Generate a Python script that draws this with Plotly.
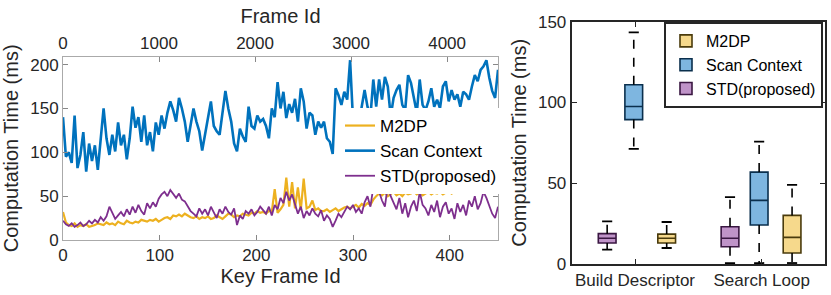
import plotly.graph_objects as go

# ---------------- data: left panel (sampled every 3 key frames) ----------------
key_frames = list(range(0, 451, 3))

scan_context = [
    140, 95, 100, 88, 142, 82, 97, 123, 78, 110,
    90, 108, 80, 120, 150, 116, 97, 120, 101, 134,
    108, 120, 92, 116, 152, 128, 140, 112, 142, 108,
    123, 101, 134, 120, 142, 127, 145, 158, 148, 135,
    162, 150, 135, 112, 130, 150, 135, 124, 102, 120,
    140, 158, 130, 124, 120, 145, 170, 150, 135, 110,
    101, 127, 118, 112, 152, 130, 127, 142, 135, 138,
    130, 116, 150, 140, 180, 150, 169, 139, 155, 145,
    161, 135, 173, 158, 127, 145, 142, 120, 135, 128,
    135, 116, 112, 98, 173, 165, 154, 169, 160, 205,
    137, 150, 129, 152, 171, 152, 140, 183, 152, 183,
    160, 186, 175, 141, 162, 171, 177, 154, 148, 188,
    179, 162, 145, 183, 154, 148, 158, 173, 152, 160,
    150, 175, 181, 158, 171, 160, 166, 152, 169, 166,
    160, 175, 188, 181, 194, 198, 205, 185, 170, 162, 194,
]

m2dp = [
    32, 20, 17, 16, 19, 15, 17, 16, 18, 15,
    16, 17, 19, 18, 17, 20, 18, 19, 17, 21,
    19, 18, 22, 20, 19, 21, 20, 23, 22, 21,
    23, 22, 24, 21, 23, 25, 26, 24, 28, 27,
    29, 27, 30, 28, 26, 25, 27, 24, 26, 25,
    27, 24, 25, 28, 26, 24, 27, 30, 29, 26,
    28, 27, 30, 29, 28, 31, 30, 33, 31, 32,
    30, 33, 32, 58, 31, 35, 40, 71, 38, 66,
    36, 60, 34, 70, 36, 38, 45, 34, 36, 33,
    33, 35, 32, 34, 36, 33, 35, 37, 38, 36,
    38, 40, 37, 41, 39, 42, 40, 46, 50, 53,
    51, 54, 50, 52, 55, 51, 53, 50, 54, 52,
    53, 55, 52, 54, 51, 53, 55, 52, 54, 53,
    55, 52, 54, 56, 53, 55, 54, 57, 55, 56,
    55, 57, 56, 58, 57, 59, 62, 60, 57, 59, 58,
]

std = [
    22, 18, 16, 19, 15, 17, 20, 16, 18, 22,
    19, 23, 20, 26, 22, 27, 38, 30, 24, 28,
    32, 27, 35, 29, 38, 31, 40, 33, 29, 42,
    36, 43, 38, 47, 52, 55, 50, 57, 52, 48,
    53, 46, 44, 38, 33, 30, 27, 36, 30, 35,
    28, 38, 32, 25, 35, 30, 38, 32, 29, 36,
    17, 28, 24, 33, 30, 35, 28, 32, 38, 34,
    30, 38, 28, 40, 35, 48, 42, 55, 45, 52,
    40, 30, 38, 25, 33, 28, 36, 30, 27, 34,
    22, 28, 24, 15, 22, 30, 26, 33, 38, 35,
    40, 32, 36, 30, 43, 50, 38, 60, 68, 55,
    45, 38, 62, 50, 42, 35, 48, 30, 42, 26,
    38, 45, 33, 55, 40, 36, 28, 40, 32, 45,
    26, 38, 43, 30, 36, 24, 42, 32, 40, 28,
    45, 38, 50, 35, 42, 55, 48, 40, 30, 25, 38,
]

key_ticks = [0, 100, 200, 300, 400]
frame_ticks = [0, 1000, 2000, 3000, 4000]
frame_range = [0, 4530]
left_y_ticks = [0, 50, 100, 150, 200]

# ---------------- data: right panel (box statistics) ----------------
methods = ["M2DP", "Scan Context", "STD(proposed)"]
groups = ["Build Descriptor", "Search Loop"]
box_lower = {"M2DP": [9.9, 0.6], "Scan Context": [71.3, 0.6], "STD(proposed)": [8.9, 0.6]}
box_q1 = {"M2DP": [13.0, 6.8], "Scan Context": [89.4, 24.1], "STD(proposed)": [13.0, 10.7]}
box_median = {"M2DP": [15.9, 16.5], "Scan Context": [97.5, 39.4], "STD(proposed)": [15.9, 15.9]}
box_q3 = {"M2DP": [18.5, 30.1], "Scan Context": [111.0, 56.9], "STD(proposed)": [18.8, 23.1]}
box_upper = {"M2DP": [26.0, 49.0], "Scan Context": [143.4, 75.8], "STD(proposed)": [26.4, 41.4]}
right_y_ticks = [0, 50, 100, 150]

# ---------------- styles ----------------
FONT = "Liberation Sans, Arial, Helvetica, sans-serif"
TXT = "#262626"
line_colors = {"M2DP": "#EDB120", "Scan Context": "#0072BD", "STD(proposed)": "#7E2F8E"}
fill_colors = {"M2DP": "#F6D98C", "Scan Context": "#7EB6E0", "STD(proposed)": "#BF93C8"}
edge_colors = {"M2DP": "#4a3b0c", "Scan Context": "#0a2f4d", "STD(proposed)": "#3a1742"}
offsets = {"STD(proposed)": [-0.22, -0.25], "Scan Context": [-0.01, -0.02], "M2DP": [0.25, 0.24]}
BOX_W = 0.14
CAP_HALF = 0.04

fig = go.Figure()

series = {"M2DP": m2dp, "Scan Context": scan_context, "STD(proposed)": std}
widths = {"M2DP": 2.2, "Scan Context": 2.6, "STD(proposed)": 1.8}
for m in methods:
    fig.add_trace(go.Scatter(
        x=key_frames, y=series[m], mode="lines", name=m,
        line=dict(color=line_colors[m], width=widths[m]),
        xaxis="x", yaxis="y", legend="legend",
    ))

# helper trace to activate the top (Frame Id) axis
fig.add_trace(go.Scatter(
    x=frame_range, y=[0, 0], mode="markers", marker=dict(opacity=0),
    hoverinfo="skip", showlegend=False, xaxis="x2", yaxis="y",
))

for m in methods:
    pos = [gi + 1 + offsets[m][gi] for gi in range(len(groups))]
    fig.add_trace(go.Box(
        x=pos, q1=box_q1[m], median=box_median[m], q3=box_q3[m],
        lowerfence=box_q1[m], upperfence=box_q3[m],
        width=BOX_W, fillcolor=fill_colors[m],
        line=dict(color=edge_colors[m], width=1.6),
        name=m, xaxis="x3", yaxis="y3", legend="legend2",
        boxpoints=False, hoverinfo="skip",
    ))
    for gi in range(len(groups)):
        p = pos[gi]
        fig.add_trace(go.Scatter(
            x=[p, p, None, p, p],
            y=[box_q3[m][gi], box_upper[m][gi], None, box_q1[m][gi], box_lower[m][gi]],
            mode="lines", line=dict(color="black", width=1.6, dash="dash"),
            showlegend=False, hoverinfo="skip", xaxis="x3", yaxis="y3",
        ))
        fig.add_trace(go.Scatter(
            x=[p - CAP_HALF, p + CAP_HALF, None, p - CAP_HALF, p + CAP_HALF],
            y=[box_upper[m][gi], box_upper[m][gi], None, box_lower[m][gi], box_lower[m][gi]],
            mode="lines", line=dict(color="black", width=1.8),
            showlegend=False, hoverinfo="skip", xaxis="x3", yaxis="y3",
        ))

W, H = 831, 295
L_X0, L_X1 = 63 / W, 498 / W
L_Y0, L_Y1 = (H - 240) / H, (H - 56.7) / H
R_X0, R_X1 = 571.7 / W, 825 / W
R_Y0, R_Y1 = (H - 264) / H, (H - 21.7) / H

tick_font = dict(family=FONT, size=17, color=TXT)
title_font = dict(family=FONT, size=20, color=TXT)

fig.update_layout(
    width=W, height=H,
    margin=dict(l=0, r=0, t=0, b=0),
    paper_bgcolor="white", plot_bgcolor="white",
    font=dict(family=FONT, color=TXT, size=17),
    showlegend=True,
    xaxis=dict(
        domain=[L_X0, L_X1], anchor="y", range=[0, 450], automargin=False,
        tickvals=key_ticks, ticks="inside", ticklen=5, tickcolor="#888",
        showline=True, linecolor="#aaa", linewidth=1, mirror=False,
        showgrid=False, zeroline=False, tickfont=tick_font,
        title=dict(text="Key Frame Id", font=title_font, standoff=4),
    ),
    xaxis2=dict(
        overlaying="x", anchor="y", side="top", range=frame_range, automargin=False,
        tickvals=frame_ticks, ticks="inside", ticklen=5, tickcolor="#888",
        showline=True, linecolor="#aaa", linewidth=1,
        showgrid=False, zeroline=False, tickfont=tick_font,
        title=dict(text="Frame Id", font=title_font, standoff=4),
    ),
    yaxis=dict(
        domain=[L_Y0, L_Y1], anchor="x", range=[0, 209], automargin=False,
        tickvals=left_y_ticks, ticks="inside", ticklen=5, tickcolor="#888",
        showline=True, linecolor="#aaa", linewidth=1, mirror="ticks",
        showgrid=False, zeroline=False, tickfont=tick_font,
        title=dict(text="Computation Time (ms)", font=title_font, standoff=6),
    ),
    xaxis3=dict(
        domain=[R_X0, R_X1], anchor="y3", range=[0.5, 2.5], automargin=False,
        tickvals=[1, 2], ticktext=groups, ticks="inside", ticklen=5,
        tickcolor="#262626", showline=True, linecolor="#262626", linewidth=2,
        mirror="ticks", showgrid=False, zeroline=False, tickfont=tick_font,
    ),
    yaxis3=dict(
        domain=[R_Y0, R_Y1], anchor="x3", range=[0, 150], automargin=False,
        tickvals=right_y_ticks, ticks="inside", ticklen=5,
        tickcolor="#262626", showline=True, linecolor="#262626", linewidth=2,
        mirror="ticks", showgrid=False, zeroline=False, tickfont=tick_font,
        title=dict(text="Computation Time (ms)", font=title_font, standoff=6),
    ),
    legend=dict(
        x=340 / W, y=(H - 108) / H, xanchor="left", yanchor="top",
        bgcolor="white", borderwidth=0, itemwidth=30,
        font=dict(family=FONT, size=17, color="black"),
        tracegroupgap=0,
    ),
    legend2=dict(
        x=823 / W, y=(H - 22) / H, xanchor="right", yanchor="top",
        bgcolor="white", bordercolor="#262626", borderwidth=2, itemwidth=30,
        font=dict(family=FONT, size=16, color="black"),
        tracegroupgap=0,
    ),
    boxmode="overlay",
)

fig.write_html(
    "out.html",
    config={"displayModeBar": False},
    post_script="document.body.style.margin='0px';document.body.style.overflow='hidden';",
)
